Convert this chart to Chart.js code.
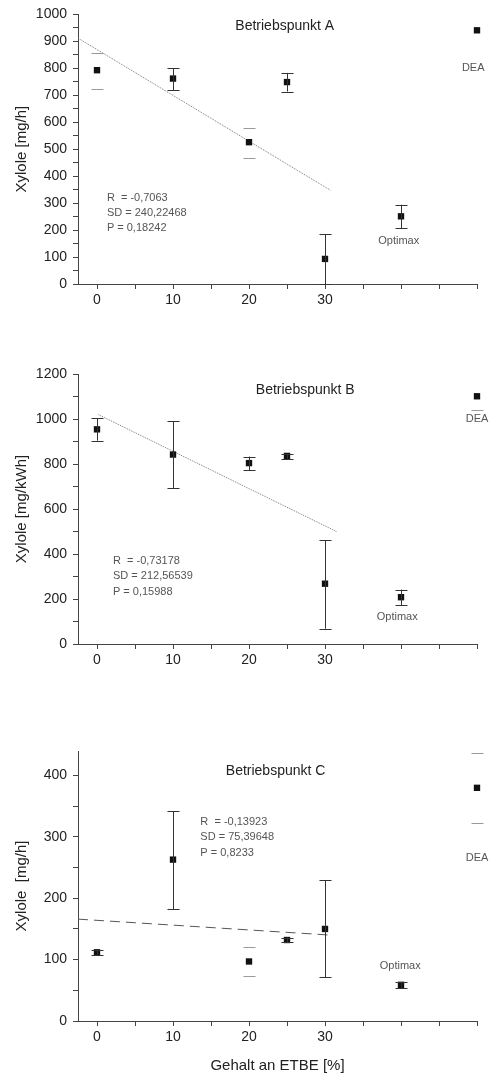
<!DOCTYPE html>
<html>
<head>
<meta charset="utf-8">
<script src="https://cdn.jsdelivr.net/npm/chart.js@4.4.1/dist/chart.umd.min.js"></script>
<style>
  body { margin: 0; background: #fff; }
  canvas { position: absolute; left: 0; }
</style>
</head>
<body>
<canvas id="chartA" width="493" height="320" style="top:0px"></canvas>
<canvas id="chartB" width="493" height="345" style="top:330px"></canvas>
<canvas id="chartC" width="493" height="399" style="top:680px"></canvas>
<script>
// ETBE content; 40 = Optimax, 50 = DEA
const etbe = [0, 10, 20, 25, 30, 40, 50];

// Betriebspunkt A  [mg/h]
const xylA   = [793, 762, 526, 749, 93, 251, 941];
const xylALo = [725, 718, 468, 714, 0, 207, null];
const xylAHi = [855, 800, 580, 783, 184, 294, null];
const fitAx  = [-2.5, 30.7];
const fitAy  = [912, 348];
const statsA = ['R  = -0,7063', 'SD = 240,22468', 'P = 0,18242'];

// Betriebspunkt B  [mg/kWh]
const xylB   = [954, 842, 804, 836, 268, 208, 1101];
const xylBLo = [904, 693, 773, 824, 68, 173, 1042];
const xylBHi = [1003, 990, 833, 846, 462, 242, null];
const fitBx  = [0.2, 31.5];
const fitBy  = [1019, 500];
const statsB = ['R  = -0,73178', 'SD = 212,56539', 'P = 0,15988'];

// Betriebspunkt C  [mg/h]
const xylC   = [112, 263, 97, 132, 150, 59, 380];
const xylCLo = [108, 182, 73, 128, 71, 54, 322];
const xylCHi = [115, 342, 121, 136, 229, 63, 436];
const fitCx  = [-2.5, 30.7];
const fitCy  = [166, 140];
const statsC = ['R  = -0,13923', 'SD = 75,39648', 'P = 0,8233'];

const FONT = '"Liberation Sans", Arial, sans-serif';

const errBars = {
  id: 'errBars',
  afterDatasetsDraw(chart, args, opts) {
    const ctx = chart.ctx;
    const xs = chart.scales.x, ys = chart.scales.y;
    ctx.save();
    opts.x.forEach((xv, i) => {
      const px = xs.getPixelForValue(xv);
      const lo = opts.lo[i], hi = opts.hi[i];
      const capOnly = opts.capOnly.includes(i);
      ctx.strokeStyle = capOnly ? '#9a9a9a' : '#333';
      ctx.lineWidth = 1;
      if (!capOnly && lo !== null && hi !== null) {
        ctx.beginPath();
        ctx.moveTo(px + 0.5, ys.getPixelForValue(lo));
        ctx.lineTo(px + 0.5, ys.getPixelForValue(hi));
        ctx.stroke();
      }
      [lo, hi].forEach(v => {
        if (v === null) return;
        const py = Math.round(ys.getPixelForValue(v)) + 0.5;
        ctx.beginPath();
        ctx.moveTo(px - 5.5, py);
        ctx.lineTo(px + 6.5, py);
        ctx.stroke();
      });
    });
    ctx.restore();
  }
};

const notes = {
  id: 'notes',
  afterDraw(chart, args, opts) {
    const ctx = chart.ctx;
    const xs = chart.scales.x, ys = chart.scales.y;
    ctx.save();
    ctx.textBaseline = 'middle';
    opts.items.forEach(it => {
      ctx.font = it.size + 'px ' + FONT;
      ctx.fillStyle = it.color;
      ctx.textAlign = it.align;
      ctx.fillText(it.text, xs.getPixelForValue(it.x), ys.getPixelForValue(it.y));
    });
    ctx.restore();
  }
};

function statItems(lines, x, ys) {
  return lines.map((t, i) => ({ text: t, x: x, y: ys[i], align: 'left', size: 11, color: '#555' }));
}

function makePanel(id, cfg) {
  const canvas = document.getElementById(id);
  const H = canvas.height;
  return new Chart(canvas.getContext('2d'), {
    data: {
      datasets: [
        {
          type: 'scatter',
          data: etbe.map((x, i) => ({ x: x, y: cfg.values[i] })),
          pointStyle: 'rect',
          pointRadius: 4.5,
          backgroundColor: '#111',
          borderColor: '#111',
          borderWidth: 0,
          clip: false
        },
        {
          type: 'line',
          data: cfg.fitX.map((x, i) => ({ x: x, y: cfg.fitY[i] })),
          borderColor: cfg.fitColor,
          borderWidth: 1,
          borderDash: cfg.dash,
          pointRadius: 0,
          fill: false,
          clip: false
        }
      ]
    },
    options: {
      responsive: false,
      animation: false,
      events: [],
      layout: { padding: { top: cfg.top, right: 16, left: 0, bottom: 0 } },
      plugins: {
        legend: { display: false },
        tooltip: { enabled: false },
        errBars: { x: etbe, lo: cfg.lo, hi: cfg.hi, capOnly: cfg.capOnly },
        notes: { items: cfg.notes }
      },
      scales: {
        x: {
          type: 'linear',
          min: -2.5,
          max: 50,
          afterFit(s) { s.height = H - cfg.bottom; },
          border: { display: true, color: '#444', width: 1 },
          grid: { drawOnChartArea: false, drawTicks: true, tickLength: 5, color: '#444' },
          ticks: {
            stepSize: 5,
            includeBounds: false,
            autoSkip: false,
            maxRotation: 0,
            padding: 3,
            color: '#222',
            font: { family: FONT, size: 14 },
            callback: v => ([0, 10, 20, 30].includes(v) ? String(v) : '')
          },
          title: {
            display: !!cfg.xTitle,
            text: cfg.xTitle || '',
            color: '#222',
            font: { family: FONT, size: 15 },
            padding: { top: 0, bottom: 4 }
          }
        },
        y: {
          type: 'linear',
          min: 0,
          max: cfg.yMax,
          afterFit(s) { s.width = 78; },
          border: { display: true, color: '#444', width: 1 },
          grid: { drawOnChartArea: false, drawTicks: true, tickLength: 5, color: '#444' },
          ticks: {
            stepSize: cfg.minor,
            includeBounds: false,
            autoSkip: false,
            padding: 6,
            color: '#222',
            font: { family: FONT, size: 14 },
            callback: v => (v % cfg.major === 0 ? String(v) : '')
          },
          title: {
            display: true,
            text: cfg.yTitle,
            color: '#222',
            font: { family: FONT, size: 15 },
            padding: { top: 13 }
          }
        }
      }
    },
    plugins: [errBars, notes]
  });
}

makePanel('chartA', {
  values: xylA, lo: xylALo, hi: xylAHi, capOnly: [0, 2],
  fitX: fitAx, fitY: fitAy, fitColor: '#777', dash: [1, 1],
  yMax: 1000, minor: 50, major: 100, top: 14, bottom: 284,
  yTitle: 'Xylole [mg/h]',
  notes: [
    { text: 'Betriebspunkt A', x: 24.7, y: 955, align: 'center', size: 14, color: '#222' },
    { text: 'DEA', x: 49.5, y: 800, align: 'center', size: 11, color: '#555' },
    { text: 'Optimax', x: 39.7, y: 160, align: 'center', size: 11, color: '#555' }
  ].concat(statItems(statsA, 1.3, [318, 263, 207]))
});

makePanel('chartB', {
  values: xylB, lo: xylBLo, hi: xylBHi, capOnly: [6],
  fitX: fitBx, fitY: fitBy, fitColor: '#777', dash: [1, 1],
  yMax: 1200, minor: 100, major: 200, top: 44, bottom: 314,
  yTitle: 'Xylole [mg/kWh]',
  notes: [
    { text: 'Betriebspunkt B', x: 27.4, y: 1128, align: 'center', size: 14, color: '#222' },
    { text: 'DEA', x: 50, y: 999, align: 'center', size: 11, color: '#555' },
    { text: 'Optimax', x: 39.5, y: 118, align: 'center', size: 11, color: '#555' }
  ].concat(statItems(statsB, 2.1, [367, 301, 230]))
});

makePanel('chartC', {
  values: xylC, lo: xylCLo, hi: xylCHi, capOnly: [2, 6],
  fitX: fitCx, fitY: fitCy, fitColor: '#555', dash: [10, 6],
  yMax: 440, minor: 50, major: 100, top: 71, bottom: 341,
  yTitle: 'Xylole  [mg/h]', xTitle: 'Gehalt an ETBE [%]',
  notes: [
    { text: 'Betriebspunkt C', x: 23.5, y: 407, align: 'center', size: 14, color: '#222' },
    { text: 'DEA', x: 50, y: 265, align: 'center', size: 11, color: '#555' },
    { text: 'Optimax', x: 39.9, y: 90, align: 'center', size: 11, color: '#555' }
  ].concat(statItems(statsC, 13.6, [324, 300, 274]))
});
</script>
</body>
</html>
